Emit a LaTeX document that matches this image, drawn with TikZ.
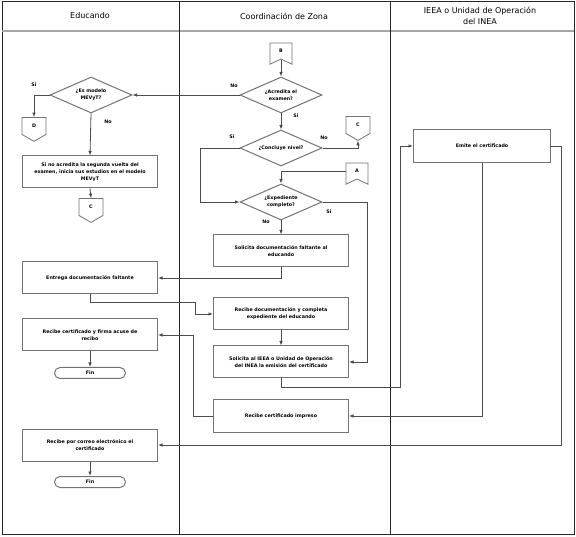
\documentclass[tikz,border=0pt]{standalone}
\usepackage{fontspec}
\setmainfont{DejaVu Sans}
\usetikzlibrary{shapes.geometric,shapes.symbols,arrows.meta}
\newcommand{\boxfont}{\fontsize{4.8}{7}\selectfont\bfseries}
\newcommand{\headfont}{\fontsize{8}{11.5}\selectfont}

\begin{document}
\begin{tikzpicture}[x=1pt,y=-1pt,
  >={Latex[length=4.5pt,width=3.6pt]},
  lane/.style={draw=black!85, line width=1pt},
  header/.style={font=\headfont, align=center},
  proc/.style={draw=black!55, line width=1pt, align=center, minimum width=135pt, minimum height=32pt, inner sep=1pt, font=\boxfont},
  decision/.style={diamond, aspect=2.3, draw=black!55, line width=1pt, align=center, minimum width=82pt, minimum height=36pt, inner sep=0pt, font=\boxfont},
  offpage/.style={signal, signal to=south, signal pointer angle=120, draw=black!55, line width=0.8pt, minimum width=24pt, minimum height=18pt, inner sep=0pt, font=\boxfont},
  onpage/.style={signal, signal to=nowhere, signal from=south, signal pointer angle=130, draw=black!55, line width=0.8pt, minimum width=22pt, minimum height=17pt, inner sep=0pt, font=\boxfont},
  terminal/.style={draw=black!55, line width=1pt, rounded corners=5.5pt, minimum width=71pt, minimum height=11pt, inner sep=0pt, font=\boxfont},
  flow/.style={draw=black!70, line width=0.8pt},
  lbl/.style={font=\boxfont, inner sep=0pt}]
\useasboundingbox (0,0) rectangle (576,537);

% swimlanes
\draw[lane] (2,2) rectangle (574,534);
\draw[draw=black!35, line width=2pt] (2,31) -- (574,31);
\draw[lane] (179,2) -- (179,534);
\draw[lane] (390,2) -- (390,534);
\node[header] (hEdu) at (90,16) {Educando};
\node[header] (hCoord) at (284,16) {Coordinación de Zona};
\node[header] (hIeea) at (480,16) {IEEA o Unidad de Operación\\del INEA};

% Coordinacion de Zona
\node[onpage] (offB) at (281,51) {B};
\node[decision] (qAcredita) at (281,95) {¿Acredita el\\examen?};
\node[decision] (qConcluye) at (281,148) {¿Concluye nivel?};
\node[offpage] (offC1) at (358,125) {C};
\node[onpage] (offA) at (357,171) {A};
\node[decision] (qExpediente) at (281,202) {¿Expediente\\completo?};
\node[proc] (solicitaDoc) at (281,251) {Solicita documentación faltante al\\educando};
\node[proc] (recibeDoc) at (281,314) {Recibe documentación y completa\\expediente del educando};
\node[proc] (solicitaIeea) at (281,362) {Solicita al IEEA o Unidad de Operación\\del INEA la emisión del certificado};
\node[proc] (recibeImpreso) at (281,416) {Recibe certificado impreso};

% IEEA o Unidad de Operacion
\node[proc, minimum width=137pt, minimum height=33pt] (emite) at (482,146) {Emite el certificado};

% Educando
\node[decision] (qModelo) at (91,95) {¿Es modelo\\MEVyT?};
\node[offpage] (offD) at (34,126) {D};
\node[proc] (inicia) at (90,172) {Si no acredita la segunda vuelta del\\examen, inicia sus estudios en el modelo\\MEVyT};
\node[offpage] (offC2) at (91,207) {C};
\node[proc] (entrega) at (90,278) {Entrega documentación faltante};
\node[proc] (recibeFirma) at (90,335) {Recibe certificado y firma acuse de\\recibo};
\node[terminal] (fin1) at (90,373) {Fin};
\node[proc] (recibeCorreo) at (90,445) {Recibe por correo electrónico el\\certificado};
\node[terminal] (fin2) at (90,482) {Fin};

% labels
\node[lbl] (lAcrNo) at (234,86) {No};
\node[lbl] (lAcrSi) at (296,116) {Si};
\node[lbl] (lConSi) at (232,137) {Si};
\node[lbl] (lConNo) at (324,138) {No};
\node[lbl] (lExpSi) at (329,212) {Si};
\node[lbl] (lExpNo) at (266,222) {No};
\node[lbl] (lModSi) at (34,85) {Si};
\node[lbl] (lModNo) at (108,122) {No};

% connectors
\draw[flow,->] (offB.south) -- (qAcredita.north);
\draw[flow,->] (qAcredita.west) -- (qModelo.east);
\draw[flow,->] (qAcredita.south) -- (qConcluye.north);
\draw[flow,->] (qConcluye.east) -| (offC1.south);
\draw[flow,->] (qConcluye.west) -- ++(-39,0) |- (qExpediente.west);
\draw[flow,->] (offA.west) -| (qExpediente.north);
\draw[flow,->] (qExpediente.east) -- ++(45,0) |- (solicitaIeea.east);
\draw[flow,->] (qExpediente.south) -- (solicitaDoc.north);
\draw[flow,->] (solicitaDoc.south) |- (entrega.east);
\draw[flow,->] (entrega.south) -- ++(0,8) -- ++(105,0) |- (recibeDoc.west);
\draw[flow,->] (recibeDoc.south) -- (solicitaIeea.north);
\draw[flow,->] (solicitaIeea.south) -- ++(0,9) -- ++(119,0) |- (emite.west);
\draw[flow,->] (emite.south) |- (recibeImpreso.east);
\draw[flow,->] (emite.east) -- ++(10.5,0) |- (recibeCorreo.east);
\draw[flow,->] (recibeImpreso.west) -- ++(-20,0) |- (recibeFirma.east);
\draw[flow,->] (recibeFirma.south) -- (fin1.north);
\draw[flow,->] (recibeCorreo.south) -- (fin2.north);
\draw[flow,->] (qModelo.west) -| (offD.north);
\draw[flow,->] (qModelo.south) -- (inicia.north);
\draw[flow,->] (inicia.south) -- (offC2.north);
\end{tikzpicture}
\end{document}
